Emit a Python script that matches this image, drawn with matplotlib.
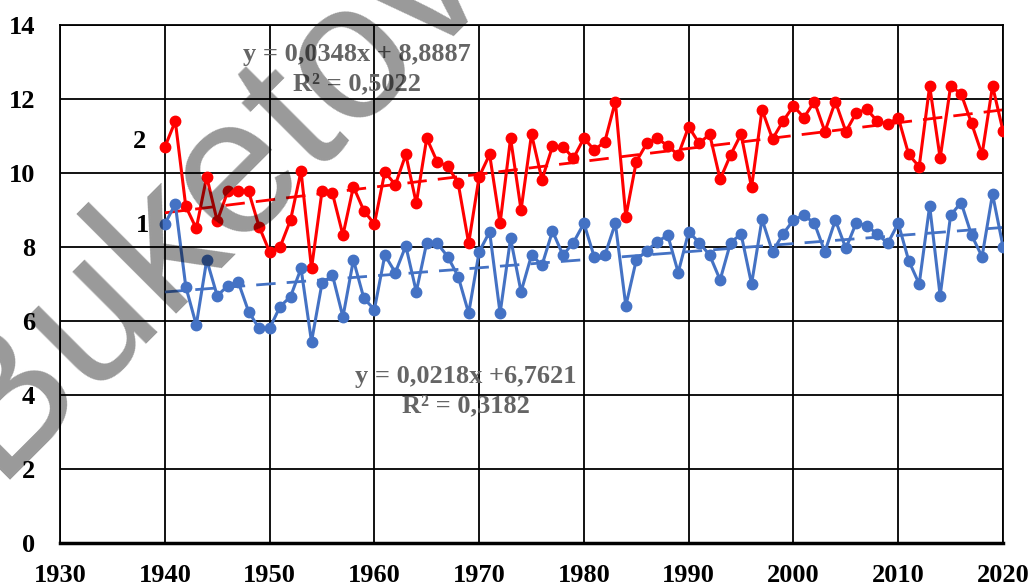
import matplotlib
matplotlib.use("Agg")
import matplotlib.pyplot as plt
import numpy as np

years = list(range(1940, 2021))

# series 2 (red)
temp_2 = [10.7, 11.4, 9.1, 8.5, 9.9, 8.7, 9.5, 9.5, 9.5, 8.55,
          7.87, 8.0, 8.73, 10.05, 7.42, 9.5, 9.45, 8.32, 9.63, 8.98,
          8.62, 10.03, 9.68, 10.5, 9.18, 10.94, 10.3, 10.19, 9.72, 8.1,
          9.9, 10.5, 8.64, 10.94, 9.0, 11.05, 9.82, 10.72, 10.71, 10.4,
          10.94, 10.62, 10.85, 11.93, 8.82, 10.31, 10.8, 10.94, 10.73, 10.49,
          11.25, 10.8, 11.05, 9.83, 10.49, 11.05, 9.61, 11.71, 10.92, 11.4,
          11.81, 11.5, 11.93, 11.12, 11.93, 11.12, 11.63, 11.72, 11.4, 11.32,
          11.5, 10.5, 10.17, 12.35, 10.4, 12.35, 12.14, 11.34, 10.5, 12.35,
          11.14]

# series 1 (blue)
temp_1 = [8.62, 9.16, 6.93, 5.89, 7.65, 6.68, 6.95, 7.06, 6.25, 5.8,
          5.8, 6.39, 6.66, 7.42, 5.44, 7.02, 7.24, 6.11, 7.65, 6.61,
          6.31, 7.78, 7.31, 8.03, 6.79, 8.12, 8.1, 7.74, 7.2, 6.21,
          7.87, 8.41, 6.21, 8.23, 6.79, 7.78, 7.51, 8.43, 7.78, 8.12,
          8.64, 7.72, 7.78, 8.64, 6.41, 7.65, 7.9, 8.14, 8.32, 7.31,
          8.41, 8.12, 7.78, 7.11, 8.12, 8.35, 7.0, 8.75, 7.87, 8.35,
          8.73, 8.86, 8.64, 7.87, 8.73, 7.96, 8.66, 8.57, 8.35, 8.1,
          8.64, 7.63, 7.0, 9.11, 6.68, 8.86, 9.2, 8.32, 7.74, 9.43,
          8.01]

# linear trends as printed on the chart (x = 1, 2, ... n)
trend_2 = (0.0348, 8.8887, "y = 0,0348x + 8,8887", "R² = 0,5022")
trend_1 = (0.0218, 6.7621, "y = 0,0218x +6,7621", "R² = 0,3182")

red = "#ff0000"
blue = "#4472c4"
serif = ["Liberation Serif", "DejaVu Serif"]

fig = plt.figure(figsize=(10.3, 5.87), dpi=100)
ax = fig.add_axes([0.0583, 0.075, 0.9155, 0.8824])

idx = np.arange(1, len(years) + 1)
for vals, (k, b, _, _), col, z in [(temp_2, trend_2, red, 3), (temp_1, trend_1, blue, 4)]:
    ax.plot(years, vals, color=col, lw=2.2, marker="o", ms=7.5, zorder=z)
    ax.plot(years, k * idx + b, color=col, lw=2.0, ls=(0, (7, 4)), zorder=2)

ax.set_xlim(1930, 2020)
ax.set_ylim(0, 14)
ax.set_xticks(range(1930, 2021, 10))
ax.set_yticks(range(0, 15, 2))
ax.grid(True, color="black", lw=1.3)
ax.set_axisbelow(True)
for s in ax.spines.values():
    s.set_color("black")
    s.set_linewidth(1.3)
ax.spines["bottom"].set_linewidth(2.5)
ax.tick_params(length=0, labelsize=19)
ax.tick_params(axis="y", pad=18)
ax.tick_params(axis="x", pad=15)
for lab in ax.get_xticklabels() + ax.get_yticklabels():
    lab.set_family(serif)
    lab.set_fontweight("bold")

# equation labels
gray = "#656565"
fig.text(357 / 1030, 1 - 54 / 587, trend_2[2], ha="center", va="center",
         fontsize=19, fontweight="bold", family=serif, color=gray)
fig.text(357 / 1030, 1 - 84 / 587, trend_2[3], ha="center", va="center",
         fontsize=19, fontweight="bold", family=serif, color=gray)
fig.text(466 / 1030, 1 - 376 / 587, trend_1[2], ha="center", va="center",
         fontsize=19, fontweight="bold", family=serif, color=gray)
fig.text(466 / 1030, 1 - 406 / 587, trend_1[3], ha="center", va="center",
         fontsize=19, fontweight="bold", family=serif, color=gray)

# series numbers
fig.text(139 / 1030, 1 - 142 / 587, "2", ha="center", va="center",
         fontsize=19, fontweight="bold", family=serif, color="black")
fig.text(142 / 1030, 1 - 225 / 587, "1", ha="center", va="center",
         fontsize=19, fontweight="bold", family=serif, color="black")

# watermark
fig.text(-5 / 1030, 1 - 480 / 587, "Buketov", ha="left", va="baseline",
         rotation=45, rotation_mode="anchor", fontsize=140,
         family=["Liberation Sans", "DejaVu Sans"], color="black",
         alpha=0.4, zorder=10)

fig.savefig("out.png", dpi=100)
